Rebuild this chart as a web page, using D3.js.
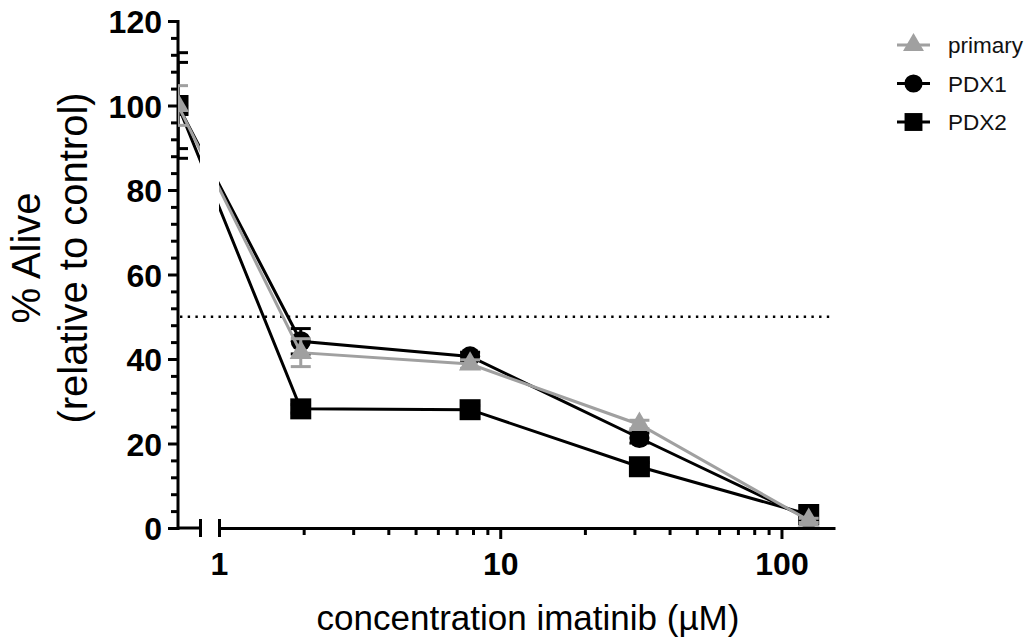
<!DOCTYPE html>
<html>
<head>
<meta charset="utf-8">
<script src="https://cdn.jsdelivr.net/npm/d3@7/dist/d3.min.js"></script>
<style>
body { margin:0; background:#fff; }
svg { font-family: "Liberation Sans", Arial, sans-serif; }
</style>
</head>
<body>
<div id="chart"></div>
<script>
var conc = [0, 1.953, 7.8125, 31.25, 125];
var seriesNames = ['primary', 'PDX1', 'PDX2'];
var primaryVals = [100, 41.5, 38.8, 24.5, 1.8];
var primaryErr = [4.7, 3.3, 1.0, 1.0, 0.5];
var pdx1Vals = [100, 44.2, 40.6, 21.3, 2.2];
var pdx1Err = [12.5, 3.0, 1.0, 1.2, 0.5];
var pdx2Vals = [100, 28.2, 28.0, 14.5, 3.2];
var pdx2Err = [10.2, 1.0, 1.0, 1.0, 0.5];
var yMajor = [0, 20, 40, 60, 80, 100, 120];
var xMajor = [1, 10, 100];
var halfLine = 50;

var grey = '#a0a0a0';
var svg = d3.select('#chart').append('svg').attr('width', 1030).attr('height', 644);

var y = d3.scaleLinear().domain([0, 120]).range([528, 21]);
var xCtrl = d3.scaleLinear().domain([0, 1]).range([178, 200]);
var xLog = d3.scaleLog().domain([1, 155]).range([219, 835]);
function px(c) { return c === 0 ? xCtrl(0) : xLog(c); }

var clip = svg.append('clipPath').attr('id', 'plotclip');
clip.append('rect').attr('x', 178).attr('y', 0).attr('width', 22).attr('height', 644);
clip.append('rect').attr('x', 219).attr('y', 0).attr('width', 811).attr('height', 644);
var markClip = svg.append('clipPath').attr('id', 'markclip');
markClip.append('rect').attr('x', 178).attr('y', 0).attr('width', 852).attr('height', 644);

// y axis
var yMinor = d3.range(4, 120, 4).filter(function(v) { return v % 20 !== 0; });
svg.append('g').attr('transform', 'translate(178,0)')
	.call(d3.axisLeft(y).tickValues(yMinor).tickSize(7).tickSizeOuter(0).tickFormat(''))
	.call(function(g) { g.select('.domain').remove(); });
var yAx = svg.append('g').attr('transform', 'translate(178,0)')
	.call(d3.axisLeft(y).tickValues(yMajor).tickSize(10).tickSizeOuter(0).tickPadding(6));
yAx.select('.domain').attr('d', 'M0,530V20');
yAx.selectAll('text').style('font-size', '32px').style('font-weight', 'bold').attr('dy', '0.36em');

svg.selectAll('.tick line').attr('stroke-width', 3);
svg.selectAll('.domain').attr('stroke-width', 3);

// x axis, broken
var xCtrlAx = svg.append('g').attr('transform', 'translate(0,528)')
	.call(d3.axisBottom(xCtrl).tickValues([1]).tickSize(9).tickSizeOuter(0).tickFormat(''));
xCtrlAx.select('.domain').attr('d', 'M178,0H200');
xCtrlAx.selectAll('.tick line').attr('y1', -9);

var xMinor = [2, 3, 4, 5, 6, 7, 8, 9, 20, 30, 40, 50, 60, 70, 80, 90];
svg.append('g').attr('transform', 'translate(0,528)')
	.call(d3.axisBottom(xLog).tickValues(xMinor).tickSize(7).tickSizeOuter(0).tickFormat(''))
	.call(function(g) { g.select('.domain').remove(); });
var xAx = svg.append('g').attr('transform', 'translate(0,528)')
	.call(d3.axisBottom(xLog).tickValues(xMajor).tickSize(11).tickSizeOuter(0).tickPadding(13).tickFormat(d3.format('d')));
xAx.selectAll('.tick').filter(function(d) { return d === 1; }).select('line').attr('y1', -9).attr('y2', 9);
xAx.selectAll('text').style('font-size', '32px').style('font-weight', 'bold');

svg.selectAll('.tick line').attr('stroke-width', 3);
svg.selectAll('.domain').attr('stroke-width', 3);

// 50% reference line
svg.append('line')
	.attr('x1', 180).attr('x2', 833)
	.attr('y1', y(halfLine)).attr('y2', y(halfLine))
	.attr('stroke', '#000').attr('stroke-width', 2.4)
	.attr('stroke-dasharray', '2.4,5.3');

var series = [
	{name: 'PDX2', vals: pdx2Vals, err: pdx2Err, color: '#000', sym: d3.symbolSquare, size: 441},
	{name: 'PDX1', vals: pdx1Vals, err: pdx1Err, color: '#000', sym: d3.symbolCircle, size: 320},
	{name: 'primary', vals: primaryVals, err: primaryErr, color: grey, sym: d3.symbolTriangle, size: 215}
];

var line = d3.line().x(function(d) { return px(d.c); }).y(function(d) { return y(d.v); });

series.forEach(function(s) {
	var pts = conc.map(function(c, i) { return {c: c, v: s.vals[i], e: s.err[i]}; });
	svg.append('path')
		.attr('d', line(pts))
		.attr('clip-path', 'url(#plotclip)')
		.attr('fill', 'none')
		.attr('stroke', s.color)
		.attr('stroke-width', 3);
	var eb = svg.append('g').attr('clip-path', 'url(#markclip)');
	pts.forEach(function(p) {
		var cx = px(p.c);
		eb.append('line').attr('x1', cx).attr('x2', cx).attr('y1', y(p.v - p.e)).attr('y2', y(p.v + p.e))
			.attr('stroke', s.color).attr('stroke-width', 3);
		[p.v - p.e, p.v + p.e].forEach(function(v) {
			eb.append('line').attr('x1', cx - 10).attr('x2', cx + 10).attr('y1', y(v)).attr('y2', y(v))
				.attr('stroke', s.color).attr('stroke-width', 3);
		});
	});
	eb.selectAll('path.mark').data(pts).enter().append('path')
		.attr('class', 'mark')
		.attr('d', d3.symbol().type(s.sym).size(s.size))
		.attr('transform', function(d) { return 'translate(' + px(d.c) + ',' + y(d.v) + ')'; })
		.attr('fill', s.color);
});

// axis titles
svg.append('text')
	.attr('x', 528).attr('y', 630)
	.attr('text-anchor', 'middle')
	.style('font-size', '35px')
	.text('concentration imatinib (\u00b5M)');
var yt = svg.append('g').attr('transform', 'translate(0,258) rotate(-90)');
yt.append('text').attr('x', 0).attr('y', 40).attr('text-anchor', 'middle').style('font-size', '40px').text('% Alive');
yt.append('text').attr('x', 0).attr('y', 87).attr('text-anchor', 'middle').style('font-size', '40px').text('(relative to control)');

// legend
var legSyms = {primary: [d3.symbolTriangle, 190, grey], PDX1: [d3.symbolCircle, 260, '#000'], PDX2: [d3.symbolSquare, 320, '#000']};
var legend = svg.append('g').attr('transform', 'translate(897,45)');
seriesNames.forEach(function(n, i) {
	var g = legend.append('g').attr('transform', 'translate(0,' + (i * 38.5) + ')');
	g.append('line').attr('x1', 0).attr('x2', 33).attr('stroke', legSyms[n][2]).attr('stroke-width', 3);
	g.append('path').attr('d', d3.symbol().type(legSyms[n][0]).size(legSyms[n][1])())
		.attr('transform', 'translate(16.5,0)').attr('fill', legSyms[n][2]);
	g.append('text').attr('x', 51).attr('y', 8).style('font-size', '22.5px').attr('fill', '#111').text(n);
});
</script>
</body>
</html>
